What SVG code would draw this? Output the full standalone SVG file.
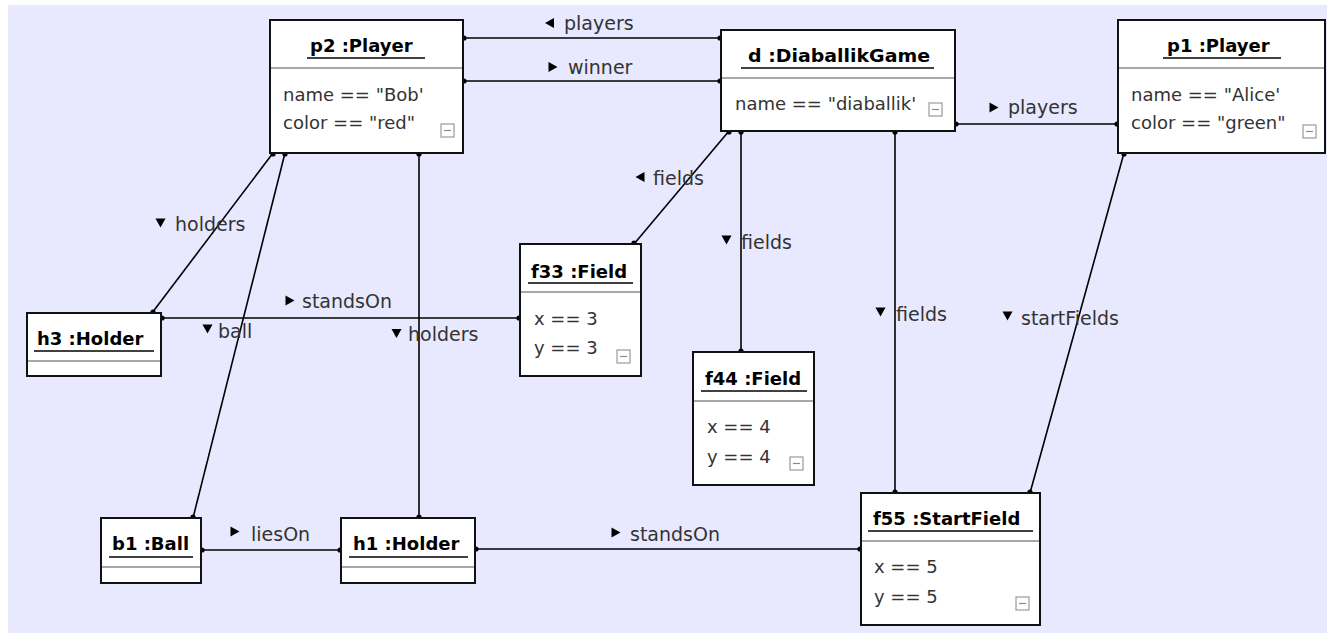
<svg xmlns="http://www.w3.org/2000/svg" width="1327" height="633" viewBox="0 0 1327 633">
<style>
.box{fill:#fff;stroke:#111;stroke-width:2}
.sep{stroke:#a8a8a8;stroke-width:2}
.ul{stroke:#000;stroke-width:1.6}
.title{font-family:"DejaVu Sans",Verdana,sans-serif;font-size:18px;font-weight:bold;fill:#000}
.attr{font-family:"DejaVu Sans",Verdana,sans-serif;font-size:18px;fill:#333}
.lbl{font-family:"DejaVu Sans",Verdana,sans-serif;font-size:19px;fill:#333}
.min{fill:#fff;stroke:#9a9a9a;stroke-width:1.2}
.minl{stroke:#8a8a8a;stroke-width:1.2}
.con{stroke:#000;stroke-width:1.6;fill:none}
.dot{fill:#000}
.tri{fill:#000}
</style>
<rect x="8" y="5" width="1319" height="628" fill="#E8E8FF"/>

<g id="connectors">
  <line class="con" x1="463" y1="38" x2="721" y2="38"/>
  <line class="con" x1="463" y1="81" x2="721" y2="81"/>
  <line class="con" x1="955" y1="124" x2="1118" y2="124"/>
  <line class="con" x1="273" y1="153" x2="152" y2="313"/>
  <line class="con" x1="285" y1="153" x2="193" y2="518"/>
  <line class="con" x1="419" y1="153" x2="419" y2="518"/>
  <line class="con" x1="161" y1="318" x2="520" y2="318"/>
  <line class="con" x1="634" y1="244" x2="729" y2="131"/>
  <line class="con" x1="741" y1="131" x2="741" y2="352"/>
  <line class="con" x1="895" y1="131" x2="895" y2="493"/>
  <line class="con" x1="1124" y1="153" x2="1030" y2="493"/>
  <line class="con" x1="201" y1="550" x2="341" y2="550"/>
  <line class="con" x1="475" y1="549" x2="861" y2="549"/>
  <g class="dot">
    <circle cx="464" cy="38" r="2.6"/><circle cx="720" cy="38" r="2.6"/>
    <circle cx="464" cy="81" r="2.6"/><circle cx="720" cy="81" r="2.6"/>
    <circle cx="956" cy="124" r="2.6"/><circle cx="1117" cy="124" r="2.6"/>
    <circle cx="273" cy="154" r="2.6"/><circle cx="153" cy="312" r="2.6"/>
    <circle cx="285" cy="154" r="2.6"/><circle cx="193" cy="517" r="2.6"/>
    <circle cx="419" cy="154" r="2.6"/><circle cx="419" cy="517" r="2.6"/>
    <circle cx="162" cy="318" r="2.6"/><circle cx="519" cy="318" r="2.6"/>
    <circle cx="634" cy="243" r="2.6"/><circle cx="729" cy="132" r="2.6"/>
    <circle cx="741" cy="132" r="2.6"/><circle cx="741" cy="351" r="2.6"/>
    <circle cx="895" cy="132" r="2.6"/><circle cx="895" cy="492" r="2.6"/>
    <circle cx="1124" cy="154" r="2.6"/><circle cx="1030" cy="492" r="2.6"/>
    <circle cx="202" cy="550" r="2.6"/><circle cx="340" cy="550" r="2.6"/>
    <circle cx="476" cy="549" r="2.6"/><circle cx="860" cy="549" r="2.6"/>
  </g>
  <g class="tri">
    <polygon points="545,23 554,18 554,28"/>
    <polygon points="548.5,62 548.5,72 557.5,67"/>
    <polygon points="989.5,102.5 989.5,112.5 998.5,107.5"/>
    <polygon points="155.5,218.5 165.5,218.5 160.5,227.5"/>
    <polygon points="202.5,324.5 212.5,324.5 207.5,333.5"/>
    <polygon points="391.5,329 401.5,329 396.5,338"/>
    <polygon points="285.5,295.5 285.5,305.5 294.5,300.5"/>
    <polygon points="635.5,177 644.5,172 644.5,182"/>
    <polygon points="721.5,235.5 731.5,235.5 726.5,244.5"/>
    <polygon points="875.5,307.5 885.5,307.5 880.5,316.5"/>
    <polygon points="1002.5,311.5 1012.5,311.5 1007.5,320.5"/>
    <polygon points="230.5,526.5 230.5,536.5 239.5,531.5"/>
    <polygon points="611.5,527.5 611.5,537.5 620.5,532.5"/>
  </g>
  <text class="lbl" x="564" y="30">players</text>
  <text class="lbl" x="568" y="74">winner</text>
  <text class="lbl" x="1008" y="114">players</text>
  <text class="lbl" x="175" y="231">holders</text>
  <text class="lbl" x="218" y="338">ball</text>
  <text class="lbl" x="408" y="341">holders</text>
  <text class="lbl" x="302" y="308">standsOn</text>
  <text class="lbl" x="653" y="185">fields</text>
  <text class="lbl" x="741" y="249">fields</text>
  <text class="lbl" x="896" y="321">fields</text>
  <text class="lbl" x="1021" y="325">startFields</text>
  <text class="lbl" x="251" y="541">liesOn</text>
  <text class="lbl" x="630" y="541">standsOn</text>
</g>

<g id="p2">
  <rect class="box" x="270" y="20" width="193" height="133"/>
  <text class="title" x="310" y="52">p2 :Player</text>
  <line class="ul" x1="307" y1="58" x2="425" y2="58"/>
  <line class="sep" x1="271" y1="68" x2="462" y2="68"/>
  <text class="attr" x="283" y="101">name == "Bob'</text>
  <text class="attr" x="283" y="129">color == "red"</text>
  <rect class="min" x="441" y="124" width="13" height="13"/>
  <line class="minl" x1="444" y1="130.5" x2="451" y2="130.5"/>
</g>

<g id="d">
  <rect class="box" x="721" y="30" width="234" height="101"/>
  <text class="title" x="748" y="62" textLength="182" lengthAdjust="spacingAndGlyphs">d :DiaballikGame</text>
  <line class="ul" x1="741" y1="68" x2="934" y2="68"/>
  <line class="sep" x1="722" y1="78" x2="954" y2="78"/>
  <text class="attr" x="735" y="110">name == "diaballik'</text>
  <rect class="min" x="929" y="103" width="13" height="13"/>
  <line class="minl" x1="932" y1="109.5" x2="939" y2="109.5"/>
</g>

<g id="p1">
  <rect class="box" x="1118" y="20" width="207" height="133"/>
  <text class="title" x="1167" y="52">p1 :Player</text>
  <line class="ul" x1="1163" y1="58" x2="1281" y2="58"/>
  <line class="sep" x1="1119" y1="68" x2="1324" y2="68"/>
  <text class="attr" x="1131" y="101">name == "Alice'</text>
  <text class="attr" x="1131" y="129">color == "green"</text>
  <rect class="min" x="1303" y="125" width="13" height="13"/>
  <line class="minl" x1="1306" y1="131.5" x2="1313" y2="131.5"/>
</g>

<g id="h3">
  <rect class="box" x="27" y="313" width="134" height="63"/>
  <text class="title" x="37" y="345">h3 :Holder</text>
  <line class="ul" x1="34" y1="351" x2="154" y2="351"/>
  <line class="sep" x1="28" y1="361" x2="160" y2="361"/>
</g>

<g id="f33">
  <rect class="box" x="520" y="244" width="121" height="132"/>
  <text class="title" x="531" y="278">f33 :Field</text>
  <line class="ul" x1="528" y1="283" x2="633" y2="283"/>
  <line class="sep" x1="521" y1="292" x2="640" y2="292"/>
  <text class="attr" x="534" y="325">x == 3</text>
  <text class="attr" x="534" y="354">y == 3</text>
  <rect class="min" x="617" y="350" width="13" height="13"/>
  <line class="minl" x1="620" y1="356.5" x2="627" y2="356.5"/>
</g>

<g id="f44">
  <rect class="box" x="693" y="352" width="121" height="133"/>
  <text class="title" x="705" y="385">f44 :Field</text>
  <line class="ul" x1="701" y1="391" x2="807" y2="391"/>
  <line class="sep" x1="694" y1="401" x2="813" y2="401"/>
  <text class="attr" x="707" y="433">x == 4</text>
  <text class="attr" x="707" y="463">y == 4</text>
  <rect class="min" x="790" y="457" width="13" height="13"/>
  <line class="minl" x1="793" y1="463.5" x2="800" y2="463.5"/>
</g>

<g id="f55">
  <rect class="box" x="861" y="493" width="179" height="132"/>
  <text class="title" x="873" y="525">f55 :StartField</text>
  <line class="ul" x1="868" y1="531" x2="1033" y2="531"/>
  <line class="sep" x1="862" y1="541" x2="1039" y2="541"/>
  <text class="attr" x="874" y="573">x == 5</text>
  <text class="attr" x="874" y="603">y == 5</text>
  <rect class="min" x="1016" y="597" width="13" height="13"/>
  <line class="minl" x1="1019" y1="603.5" x2="1026" y2="603.5"/>
</g>

<g id="b1">
  <rect class="box" x="101" y="518" width="100" height="65"/>
  <text class="title" x="112" y="550">b1 :Ball</text>
  <line class="ul" x1="109" y1="557" x2="193" y2="557"/>
  <line class="sep" x1="102" y1="567" x2="200" y2="567"/>
</g>

<g id="h1">
  <rect class="box" x="341" y="518" width="134" height="65"/>
  <text class="title" x="353" y="550">h1 :Holder</text>
  <line class="ul" x1="349" y1="557" x2="468" y2="557"/>
  <line class="sep" x1="342" y1="567" x2="474" y2="567"/>
</g>
</svg>
